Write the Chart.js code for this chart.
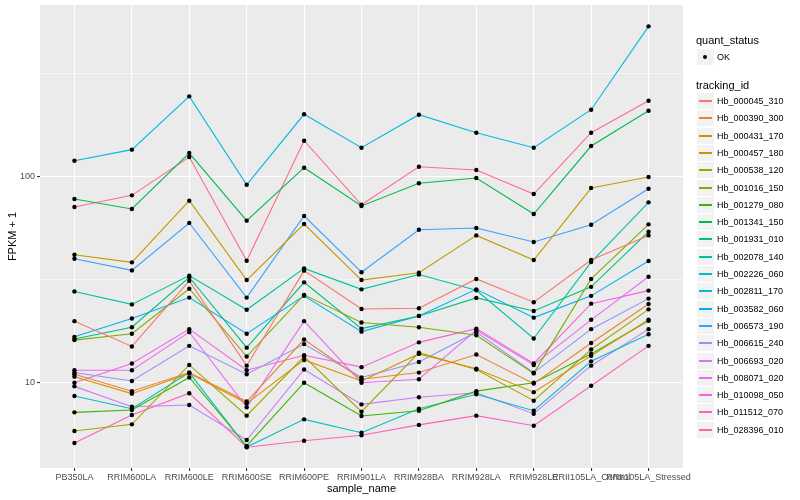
<!DOCTYPE html>
<html>
<head>
<meta charset="utf-8">
<script src="https://cdn.jsdelivr.net/npm/chart.js@4.4.1/dist/chart.umd.min.js"></script>
<style>
  html, body { margin: 0; padding: 0; background: #fff; }
  #wrap { position: relative; width: 800px; height: 500px; font-family: "Liberation Sans", Arial, sans-serif; }
  #chart { position: absolute; left: 0; top: 0; }
  .lg-title { position: absolute; left: 696px; font-size: 11px; color: #000; line-height: 12px; }
  .lg-key { position: absolute; left: 697px; width: 17px; height: 16px; background: #F2F2F2; }
  .lg-line { position: absolute; left: 2px; width: 13px; top: 7px; height: 2px; }
  .lg-text { position: absolute; left: 717px; font-size: 9px; color: #000; line-height: 10px; }
</style>
</head>
<body>
<div id="wrap">
  <canvas id="chart" width="800" height="500"></canvas>
  <div id="legend"></div>
</div>
<script>
(function(){
  const sampleNames = ['PB350LA', 'RRIM600LA', 'RRIM600LE', 'RRIM600SE', 'RRIM600PE', 'RRIM901LA',
    'RRIM928BA', 'RRIM928LA', 'RRIM928LE', 'RRII105LA_Control', 'RRII105LA_Stressed'];

  const trackingIds = ['Hb_000045_310', 'Hb_000390_300', 'Hb_000431_170', 'Hb_000457_180', 'Hb_000538_120',
    'Hb_001016_150', 'Hb_001279_080', 'Hb_001341_150', 'Hb_001931_010', 'Hb_002078_140',
    'Hb_002226_060', 'Hb_002811_170', 'Hb_003582_060', 'Hb_006573_190', 'Hb_006615_240',
    'Hb_006693_020', 'Hb_008071_020', 'Hb_010098_050', 'Hb_011512_070', 'Hb_028396_010'];

  const trackingColors = ['#F8766D', '#EA8331', '#D89000', '#C09B00', '#A3A500',
    '#7CAE00', '#39B600', '#00BB4E', '#00BF7D', '#00C1A3',
    '#00BFC4', '#00BAE0', '#00B0F6', '#35A2FF', '#9590FF',
    '#C77CFF', '#E76BF3', '#FA62DB', '#FF62BC', '#FF6C91'];

  // FPKM + 1 per sample, in sampleNames order
  const hb_000045_310 = [19.9, 15.0, 31.2, 12.1, 35.0, 22.8, 23.0, 31.9, 24.6, 39.4, 51.9];
  const hb_000390_300 = [11.0, 9.1, 11.2, 8.1, 16.2, 10.4, 11.2, 13.7, 9.9, 15.6, 24.1];
  const hb_000431_170 = [10.7, 8.85, 11.1, 7.94, 12.9, 10.2, 13.8, 11.7, 9.0, 13.5, 20.2];
  const hb_000457_180 = [41.8, 38.4, 76.5, 31.5, 58.9, 31.5, 34.2, 51.9, 39.4, 88.1, 99.7];
  const hb_000538_120 = [5.83, 6.28, 12.2, 6.92, 13.4, 7.23, 14.0, 11.6, 8.18, 14.5, 22.7];
  const hb_001016_150 = [16.1, 17.3, 28.6, 13.4, 26.7, 19.6, 18.6, 17.0, 11.1, 31.9, 58.7];
  const hb_001279_080 = [7.18, 7.37, 10.6, 4.93, 10.0, 6.89, 7.31, 9.1, 10.0, 13.8, 20.0];
  const hb_001341_150 = [77.9, 69.7, 130.3, 61.2, 110.6, 72.1, 92.9, 98.6, 65.9, 140.9, 209];
  const hb_001931_010 = [16.3, 18.6, 32.5, 14.8, 30.7, 18.3, 21.1, 25.8, 22.3, 29.2, 54.1];
  const hb_002078_140 = [27.7, 24.0, 33.1, 22.6, 35.9, 28.4, 33.5, 28.1, 16.4, 38.5, 75.1];
  const hb_002226_060 = [8.62, 7.48, 11.2, 4.87, 6.64, 5.72, 7.48, 8.79, 7.31, 12.7, 17.2];
  const hb_002811_170 = [119.6, 135.3, 245.5, 91.4, 200.9, 138.3, 200, 163.5, 138.3, 211.5, 537];
  const hb_003582_060 = [16.7, 20.5, 25.9, 17.3, 26.4, 17.7, 21.1, 28.4, 20.7, 26.4, 39.0];
  const hb_006573_190 = [40.0, 35.1, 59.6, 25.9, 64.5, 34.4, 55.3, 56.4, 48.2, 58.5, 87.4];
  const hb_006615_240 = [11.2, 10.2, 15.1, 11.0, 15.4, 10.6, 12.6, 17.6, 11.2, 18.2, 25.6];
  const hb_006693_020 = [9.6, 7.65, 7.8, 5.27, 11.6, 7.85, 8.5, 8.94, 7.07, 12.1, 18.2];
  const hb_008071_020 = [11.5, 11.5, 17.6, 7.6, 19.9, 10.0, 10.4, 18.0, 12.2, 20.2, 32.7];
  const hb_010098_050 = [10.0, 12.4, 18.2, 11.5, 13.6, 11.9, 15.7, 18.3, 12.4, 24.2, 28.0];
  const hb_011512_070 = [5.10, 6.97, 8.89, 4.86, 5.23, 5.56, 6.24, 6.92, 6.18, 9.67, 15.1];
  const hb_028396_010 = [71.3, 81.2, 124.6, 39.1, 149.5, 73.1, 111.8, 107.8, 82.4, 163.5, 233.9];

  const seriesValues = [hb_000045_310, hb_000390_300, hb_000431_170, hb_000457_180, hb_000538_120,
    hb_001016_150, hb_001279_080, hb_001341_150, hb_001931_010, hb_002078_140,
    hb_002226_060, hb_002811_170, hb_003582_060, hb_006573_190, hb_006615_240,
    hb_006693_020, hb_008071_020, hb_010098_050, hb_011512_070, hb_028396_010];

  const yMajor = [10, 100];
  const yMinor = [31.62, 316.2];

  const toPoints = vals => vals.map((v, i) => ({ x: i, y: v }));

  const lineSets = seriesValues.map((vals, k) => ({
    label: trackingIds[k],
    data: toPoints(vals),
    borderColor: trackingColors[k],
    borderWidth: 1.1,
    pointRadius: 0,
    fill: false,
    tension: 0,
    order: 2
  }));
  // points drawn above every line, like geom_point on top of geom_line
  const pointSets = seriesValues.map((vals, k) => ({
    label: trackingIds[k] + ' OK',
    data: toPoints(vals),
    showLine: false,
    pointRadius: 2.2,
    pointBackgroundColor: '#000',
    pointBorderWidth: 0,
    order: 1
  }));

  const panelBg = {
    id: 'panelBg',
    beforeDraw(chart){
      const { ctx, chartArea: a } = chart;
      ctx.save();
      ctx.fillStyle = '#EBEBEB';
      ctx.fillRect(a.left, a.top, a.width, a.height);
      ctx.restore();
    }
  };

  const isMajor = v => yMajor.includes(v);

  Chart.defaults.font.family = '"Liberation Sans", Arial, sans-serif';

  new Chart(document.getElementById('chart'), {
    type: 'line',
    data: { datasets: lineSets.concat(pointSets) },
    plugins: [panelBg],
    options: {
      responsive: false,
      animation: false,
      layout: { padding: { top: 5, right: 117, left: 0, bottom: 0 } },
      plugins: { legend: { display: false }, tooltip: { enabled: false } },
      scales: {
        x: {
          type: 'linear',
          min: -0.6,
          max: 10.6,
          afterBuildTicks: s => { s.ticks = sampleNames.map((_, i) => ({ value: i })); },
          afterFit: s => { s.height = 32; s.paddingLeft = 0; s.paddingRight = 0; },
          border: { display: false },
          grid: { color: '#FFFFFF', lineWidth: 1.1, tickLength: 3, tickColor: '#333333' },
          ticks: {
            autoSkip: false, maxRotation: 0, minRotation: 0, padding: 1,
            color: '#4D4D4D', font: { size: 9 },
            callback: v => sampleNames[v]
          },
          title: { display: true, text: 'sample_name', color: '#000', font: { size: 11 }, padding: { top: 0, bottom: 4 } }
        },
        y: {
          type: 'logarithmic',
          min: 3.855,
          max: 681.6,
          afterBuildTicks: s => {
            s.ticks = yMajor.concat(yMinor).sort((a, b) => a - b).map(v => ({ value: v }));
          },
          afterFit: s => { s.width = 40; s.paddingTop = 0; s.paddingBottom = 0; },
          border: { display: false },
          grid: {
            color: '#FFFFFF',
            lineWidth: c => (c.tick && isMajor(c.tick.value)) ? 1.1 : 0.55,
            tickLength: 3,
            tickColor: c => (c.tick && isMajor(c.tick.value)) ? '#333333' : 'rgba(0,0,0,0)'
          },
          ticks: {
            padding: 2, color: '#4D4D4D', font: { size: 9 },
            callback: v => isMajor(v) ? String(v) : ''
          },
          title: { display: true, text: 'FPKM + 1', color: '#000', font: { size: 11 }, padding: { top: 6, bottom: 0 } }
        }
      }
    }
  });

  // ggplot-style legend at the right
  function buildLegend(){
    const box = document.getElementById('legend');
    let html = '';
    html += '<div class="lg-title" style="top:34px">quant_status</div>';
    html += '<div class="lg-key" style="top:49px"><div style="position:absolute;left:6px;top:6px;width:4px;height:4px;border-radius:50%;background:#000"></div></div>';
    html += '<div class="lg-text" style="top:52px">OK</div>';
    html += '<div class="lg-title" style="top:79px">tracking_id</div>';
    trackingIds.forEach((id, k) => {
      const cy = Math.round(101 + k * 17.3);
      html += '<div class="lg-key" style="top:' + (cy - 8) + 'px"><div class="lg-line" style="background:' + trackingColors[k] + '"></div></div>';
      html += '<div class="lg-text" style="top:' + (cy - 5) + 'px">' + id + '</div>';
    });
    box.innerHTML = html;
  }
  buildLegend();
})();
</script>
</body>
</html>
